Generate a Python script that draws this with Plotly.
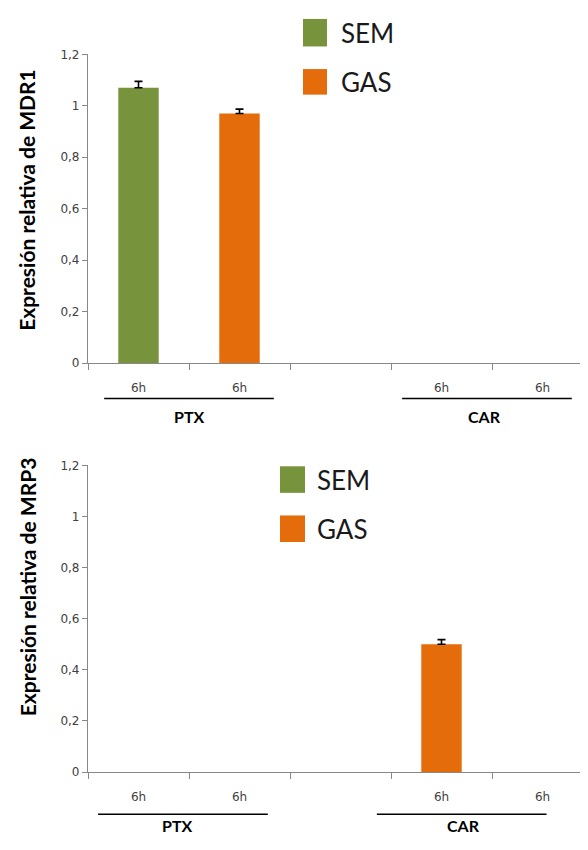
import plotly.graph_objects as go

# ---------------- data ----------------
categories = [0, 1, 2, 3, 4]
cat_labels = ["6h", "6h", "", "6h", "6h"]
groups = ["PTX", "CAR"]
group_centers = [0.5, 3.5]
series_names = ["SEM", "GAS"]
series_colors = ["#77933C", "#E46C0A"]

mdr1_sem = [1.07, None, None, None, None]
mdr1_sem_err = [0.025, None, None, None, None]
mdr1_gas = [None, 0.97, None, None, None]
mdr1_gas_err = [None, 0.017, None, None, None]

mrp3_sem = [None, None, None, None, None]
mrp3_sem_err = [None, None, None, None, None]
mrp3_gas = [None, None, None, 0.50, None]
mrp3_gas_err = [None, None, None, 0.018, None]

y_titles = ["Expresión relativa de MDR1", "Expresión relativa de MRP3"]

# ---------------- layout helpers ----------------
# page has an 8px body margin, so the figure is 16px smaller than the window
OFF = 8
W, H = 588 - 2 * OFF, 850 - 2 * OFF
FONT = "Lato"
TICKFONT = "DejaVu Sans"
AXIS_GRAY = "#888888"
TXT_GRAY = "#404040"


def py(px):
    return 1 - (px - OFF) / H


def px_x(px):
    return (px - OFF) / W


fig = go.Figure()

panels = [
    dict(sem=mdr1_sem, sem_err=mdr1_sem_err, gas=mdr1_gas, gas_err=mdr1_gas_err,
         xa="x", ya="y"),
    dict(sem=mrp3_sem, sem_err=mrp3_sem_err, gas=mrp3_gas, gas_err=mrp3_gas_err,
         xa="x2", ya="y2"),
]

for p in panels:
    for vals, errs, name, col in [(p["sem"], p["sem_err"], series_names[0], series_colors[0]),
                                  (p["gas"], p["gas_err"], series_names[1], series_colors[1])]:
        fig.add_trace(go.Bar(
            x=categories, y=vals, name=name, marker_color=col, width=0.4,
            marker_line_width=0, showlegend=False,
            error_y=dict(type="data", array=errs, arrayminus=[0] * len(errs),
                         symmetric=False, color="black", thickness=1.6, width=4),
            xaxis=p["xa"], yaxis=p["ya"],
        ))

x_range = [-0.5, -0.5 + (W + OFF - 88) / 101.0]
common_x = dict(
    range=x_range, domain=[px_x(88), 1],
    tickmode="array", tickvals=[c for c, l in zip(categories, cat_labels) if l],
    ticktext=[l for l in cat_labels if l],
    ticks="outside", ticklen=0, ticklabelstandoff=13,
    tickfont=dict(family=TICKFONT, size=12, color=TXT_GRAY),
    minor=dict(tickmode="array", tickvals=[-0.5, 0.5, 1.5, 2.5, 3.5],
               ticks="outside", ticklen=6, tickcolor=AXIS_GRAY, tickwidth=1),
    showline=True, linecolor=AXIS_GRAY, linewidth=1.2,
    showgrid=False, zeroline=False, fixedrange=True,
)
common_y = dict(
    range=[0, 1.2], tickmode="linear", tick0=0, dtick=0.2,
    ticks="outside", ticklen=5, tickcolor=AXIS_GRAY,
    tickfont=dict(family=TICKFONT, size=12, color=TXT_GRAY),
    showline=True, linecolor=AXIS_GRAY, linewidth=1.2,
    showgrid=False, zeroline=False, fixedrange=True,
)

fig.update_layout(
    xaxis=dict(common_x, anchor="y"),
    yaxis=dict(common_y, domain=[py(362), py(48)], anchor="x"),
    xaxis2=dict(common_x, anchor="y2"),
    yaxis2=dict(common_y, domain=[py(778), py(466)], anchor="x2"),
)

annotations = []
shapes = []

# y-axis titles
for title, yc in zip(y_titles, [196, 590]):
    annotations.append(dict(text=title, xref="paper", yref="paper", x=px_x(27), y=py(yc),
                            textangle=-90, showarrow=False, xanchor="center", yanchor="middle",
                            font=dict(family=FONT, size=21, color="black", weight="bold")))

# group underlines and labels (per panel offsets)
group_layout = [
    dict(xa="x", line_y=398, text_y=416, line_off=[0.0, -0.05], text_off=[0.0, -0.07]),
    dict(xa="x2", line_y=821, text_y=832, line_off=[-0.06, -0.30], text_off=[-0.11, -0.28]),
]
for gl in group_layout:
    for g, c, lo, to in zip(groups, group_centers, gl["line_off"], gl["text_off"]):
        shapes.append(dict(type="line", xref=gl["xa"], yref="paper",
                           x0=c + lo - 0.84, x1=c + lo + 0.84, y0=py(gl["line_y"]), y1=py(gl["line_y"]),
                           line=dict(color="black", width=1.5)))
        annotations.append(dict(text=g, xref=gl["xa"], yref="paper", x=c + to, y=py(gl["text_y"]),
                                showarrow=False, xanchor="center", yanchor="middle",
                                font=dict(family=FONT, size=16, color="black", weight="bold")))

# legends (large swatches)
legend_layout = [
    dict(x0=303, x1=327, tx=339, rows=[(12, 40), (63, 89)]),
    dict(x0=280, x1=305, tx=315, rows=[(467, 494), (517, 544)]),
]
for lg in legend_layout:
    for name, col, (r0, r1) in zip(series_names, series_colors, lg["rows"]):
        shapes.append(dict(type="rect", xref="paper", yref="paper",
                           x0=px_x(lg["x0"]), x1=px_x(lg["x1"]), y0=py(r1), y1=py(r0),
                           fillcolor=col, line=dict(width=0)))
        annotations.append(dict(text=name, xref="paper", yref="paper", x=px_x(lg["tx"]),
                                y=py((r0 + r1) / 2), showarrow=False, xanchor="left", yanchor="middle",
                                font=dict(family=FONT, size=26, color="#1a1a1a")))

fig.update_layout(
    width=W, height=H,
    margin=dict(l=0, r=0, t=0, b=0),
    paper_bgcolor="white", plot_bgcolor="white",
    barmode="overlay", separators=", ",
    showlegend=False,
    annotations=annotations, shapes=shapes,
    font=dict(family=FONT),
)

fig.write_html("out.html")
